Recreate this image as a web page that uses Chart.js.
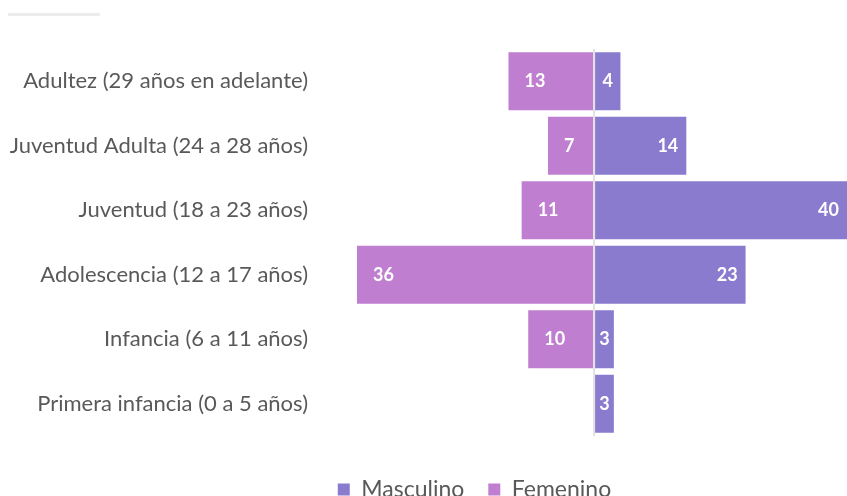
<!DOCTYPE html>
<html lang="es">
<head>
  <meta charset="UTF-8">
  <title>Grupos de edad por sexo</title>
  <script src="https://cdn.jsdelivr.net/npm/chart.js"></script>
  <style>
    html, body {
      margin: 0;
      padding: 0;
      background: #fff;
      overflow: hidden;
      width: 847px;
      height: 496px;
    }
    .wrap {
      position: relative;
      width: 847px;
      height: 511px;
    }
    .stub {
      position: absolute;
      left: 8px;
      top: 13px;
      width: 92px;
      height: 3px;
      background: #ececec;
    }
  </style>
</head>
<body>
  <div class="wrap">
    <div class="stub"></div>
    <canvas id="chart"></canvas>
  </div>

  <script>
    const categorias = [
      "Adultez (29 años en adelante)",
      "Juventud Adulta (24 a 28 años)",
      "Juventud (18 a 23 años)",
      "Adolescencia (12 a 17 años)",
      "Infancia (6 a 11 años)",
      "Primera infancia (0 a 5 años)"
    ];
    const masculino = [4, 14, 40, 23, 3, 3];
    const femenino = [13, 7, 11, 36, 10, 0];

    const colorMasc = "#8a7bcf";
    const colorFem = "#bf7ecf";

    // etiquetas blancas dentro de la barra, al extremo exterior
    const etiquetas = {
      id: "etiquetas",
      afterDatasetsDraw(chart) {
        const ctx = chart.ctx;
        const area = chart.chartArea;
        ctx.save();
        ctx.font = "bold 18px Lato";
        ctx.fillStyle = "#fff";
        ctx.textBaseline = "middle";
        chart.data.datasets.forEach((ds, i) => {
          const meta = chart.getDatasetMeta(i);
          meta.data.forEach((bar, j) => {
            const v = Math.abs(ds.data[j]);
            if (!v) return;
            const txt = String(v);
            const w = ctx.measureText(txt).width;
            const outer = Math.max(area.left, Math.min(area.right, bar.x));
            const inner = bar.base;
            const ancho = Math.abs(outer - inner);
            if (ancho < w + 34) {
              ctx.textAlign = "center";
              ctx.fillText(txt, (outer + inner) / 2, bar.y);
            } else if (outer > inner) {
              ctx.textAlign = "right";
              ctx.fillText(txt, outer - 8, bar.y);
            } else {
              ctx.textAlign = "left";
              ctx.fillText(txt, outer + 16, bar.y);
            }
          });
        });
        ctx.restore();
      }
    };

    // la leyenda va centrada algo a la derecha
    const moverLeyenda = {
      id: "moverLeyenda",
      afterLayout(chart) {
        if (chart.legend) chart.legend.left += 102;
      }
    };

    new Chart(document.getElementById("chart"), {
      type: "bar",
      data: {
        labels: categorias,
        datasets: [
          { label: "Masculino", data: masculino, backgroundColor: colorMasc },
          { label: "Femenino", data: femenino.map(v => -v), backgroundColor: colorFem }
        ]
      },
      options: {
        indexAxis: "y",
        responsive: true,
        maintainAspectRatio: false,
        animation: false,
        layout: { padding: { top: 49, left: 0, right: 0, bottom: 0 } },
        datasets: { bar: { barPercentage: 0.9, categoryPercentage: 1.0 } },
        scales: {
          x: {
            stacked: true,
            min: -36,
            max: 38.4,
            ticks: { display: false },
            border: { display: false },
            grid: {
              z: 1,
              drawTicks: false,
              lineWidth: 2,
              color: c => c.tick && c.tick.value === 0 ? "#e2e2e2" : "rgba(0,0,0,0)"
            },
            afterFit(scale) { scale.height = 18; }
          },
          y: {
            stacked: true,
            border: { display: false },
            grid: { display: false },
            ticks: {
              color: "#595959",
              font: { family: "Lato", size: 22 },
              padding: 41
            },
            afterFit(scale) {
              scale.width = 357;
              scale.paddingTop = 0;
              scale.paddingBottom = 0;
            }
          }
        },
        plugins: {
          tooltip: { enabled: false },
          legend: {
            position: "bottom",
            labels: {
              color: "#595959",
              font: { family: "Lato", size: 23 },
              boxWidth: 12,
              boxHeight: 12,
              padding: 24
            }
          }
        }
      },
      plugins: [etiquetas, moverLeyenda]
    });
  </script>
</body>
</html>
